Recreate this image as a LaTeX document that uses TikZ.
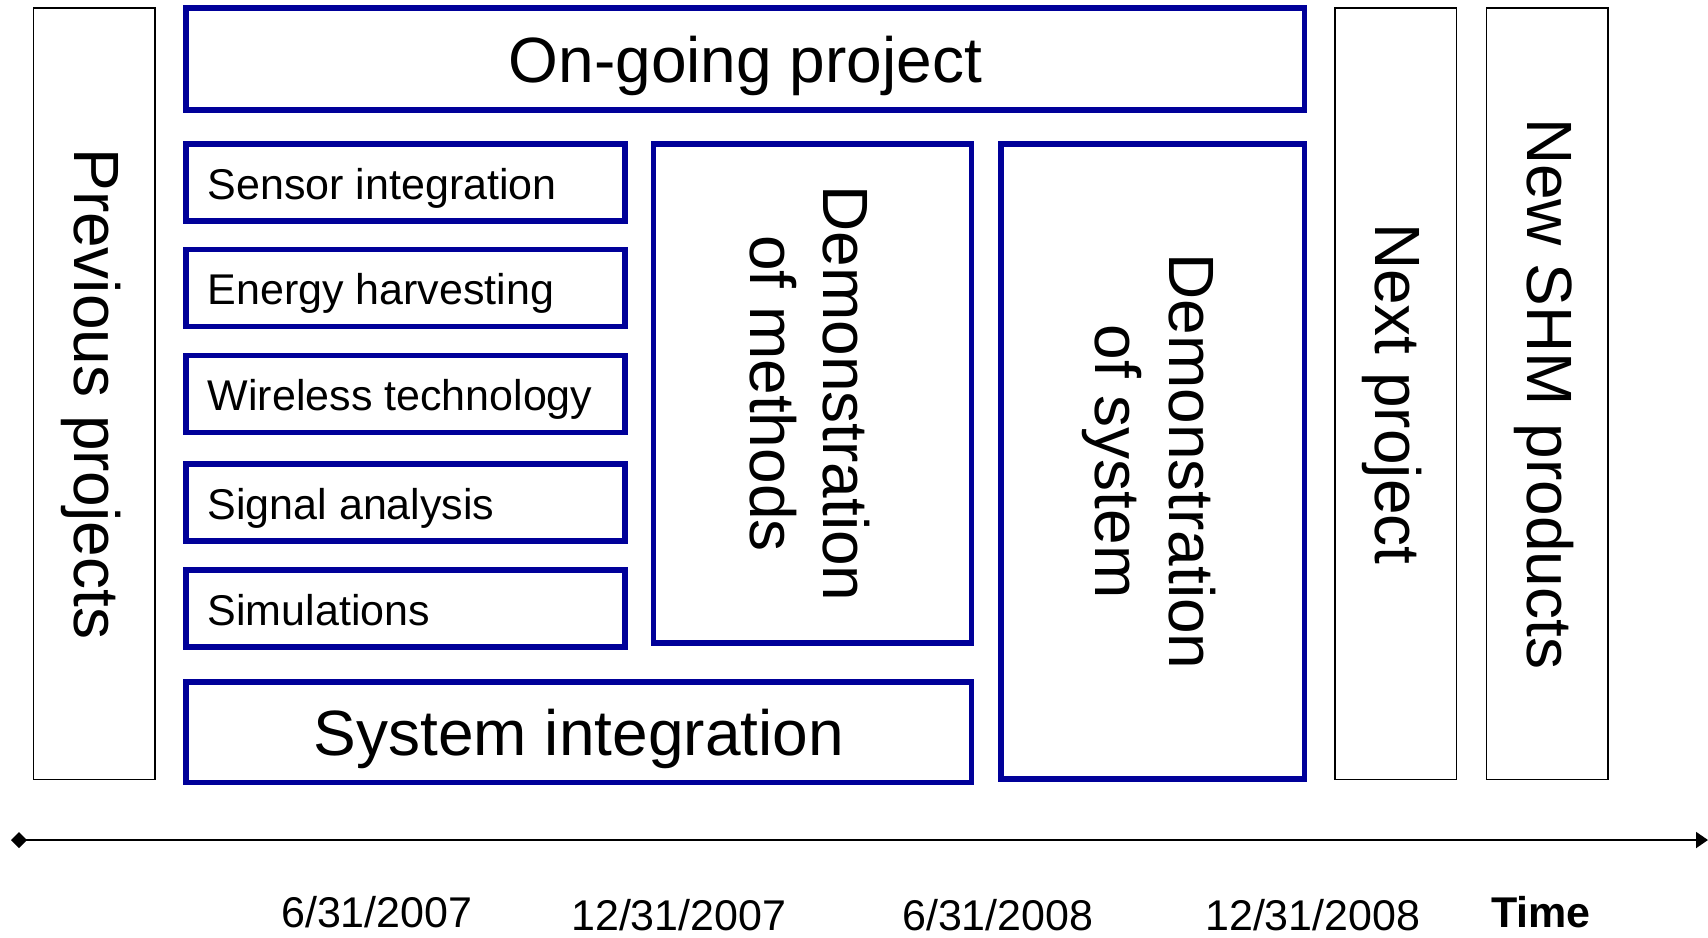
\documentclass[tikz,border=0pt]{standalone}
\usepackage{fontspec}
\setmainfont{Liberation Sans}
\usetikzlibrary{arrows.meta}
\definecolor{navyblue}{RGB}{0,0,153}
\begin{document}
\begin{tikzpicture}[x=1pt,y=-1pt,
  bluebox/.style={draw=navyblue, line width=5.5pt, inner sep=0pt, outer sep=0pt},
  graybox/.style={draw=black, line width=1.5pt, inner sep=0pt, outer sep=0pt},
  bigtext/.style={font=\fontsize{64}{73.5}\selectfont, inner sep=0pt},
  smalltext/.style={font=\fontsize{43}{49}\selectfont, inner sep=0pt},
  vtext/.style={bigtext, rotate=-90, align=center},
  timeline/.style={line width=2pt, {Diamond[length=16pt,width=16pt]}-{Triangle[length=12pt,width=16pt]}}
]
\useasboundingbox (0,0) rectangle (1708,937);

% grey side boxes
\node[graybox, minimum width=121.5pt, minimum height=771.5pt] (prev) at (94.25,393.75) {};
\node[graybox, minimum width=121.5pt, minimum height=771.5pt] (next) at (1395.75,393.75) {};
\node[graybox, minimum width=121.5pt, minimum height=771.5pt] (newp) at (1547.25,393.75) {};
\node[vtext] (prevt) at ([xshift=-3.5pt]prev.center) {Previous projects};
\node[vtext] (nextt) at ([xshift=-3.5pt]next.center) {Next project};
\node[vtext] (newt) at ([xshift=-3.5pt]newp.center) {New SHM products};

% on-going project
\node[bluebox, minimum width=1118.7pt, minimum height=102pt] (ongo) at (745.35,59) {};
\node[bigtext, anchor=base] (ongot) at (745.35,82) {On-going project};

% small boxes
\node[bluebox, minimum width=439pt, minimum height=77pt] (sens) at (405.5,182.5) {};
\node[bluebox, minimum width=439pt, minimum height=77pt] (ener) at (405.5,288) {};
\node[bluebox, minimum width=439pt, minimum height=77pt] (wire) at (405.5,394) {};
\node[bluebox, minimum width=439pt, minimum height=77pt] (sign) at (405.5,502.5) {};
\node[bluebox, minimum width=439pt, minimum height=77pt] (simu) at (405.5,608.5) {};
\node[smalltext, anchor=base west] (senst) at (207.5,199) {Sensor integration};
\node[smalltext, anchor=base west] (enert) at (207.5,304.5) {Energy harvesting};
\node[smalltext, anchor=base west] (wiret) at (207.5,410.5) {Wireless technology};
\node[smalltext, anchor=base west] (signt) at (207.5,519) {Signal analysis};
\node[smalltext, anchor=base west] (simut) at (207.5,625) {Simulations};

% demonstration of methods
\node[bluebox, minimum width=318.1pt, minimum height=499pt] (dmeth) at (812.65,393.5) {};
\node[vtext] (dmetht) at ([xshift=-3pt]dmeth.center) {Demonstration\\of methods};

% system integration
\node[bluebox, minimum width=785.7pt, minimum height=100.5pt] (sysi) at (578.85,732.25) {};
\node[bigtext, anchor=base] (sysit) at (578.85,755) {System integration};

% demonstration of system
\node[bluebox, minimum width=303.7pt, minimum height=635pt] (dsys) at (1152.85,461.5) {};
\node[vtext] (dsyst) at ([xshift=-4pt]dsys.center) {Demonstration\\of system};

% timeline
\coordinate (tstart) at (11,840);
\coordinate (tend) at (1708,840);
\draw[timeline] (tstart) -- (tend);

% dates
\node[smalltext, anchor=base west] (d1) at (281,927) {6/31/2007};
\node[smalltext, anchor=base west] (d2) at (571,930) {12/31/2007};
\node[smalltext, anchor=base west] (d3) at (902,930) {6/31/2008};
\node[smalltext, anchor=base west] (d4) at (1205,930) {12/31/2008};
\node[smalltext, anchor=base west, font=\fontsize{43}{49}\selectfont\bfseries] (time) at (1491,927) {Time};
\end{tikzpicture}
\end{document}
